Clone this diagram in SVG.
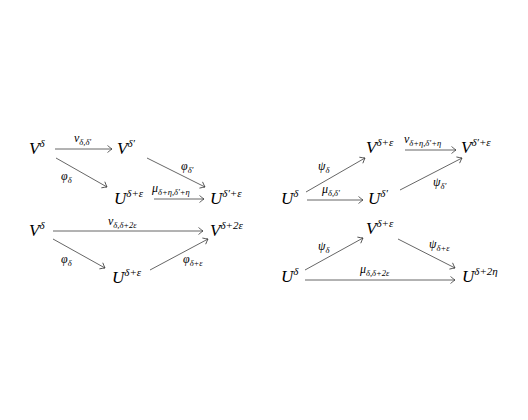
<svg xmlns="http://www.w3.org/2000/svg" width="528" height="420" viewBox="0 0 528 420">
<style>
.m{font-family:"Liberation Serif","DejaVu Serif",serif;font-style:italic;fill:#000}
.n{font-size:17px}
.sp{font-size:11px}
.l{font-size:12px}
.sb{font-size:8.5px}
.c line{stroke:#333;stroke-width:0.75;fill:none;marker-end:url(#ah)}
</style>
<defs>
<marker id="ah" markerWidth="10" markerHeight="10" refX="0" refY="0" viewBox="-6 -5 8 10" orient="auto" markerUnits="userSpaceOnUse">
<path d="M-4.5,-3.5 Q-1.5,-1 0,0 Q-1.5,1 -4.5,3.5" fill="none" stroke="#333" stroke-width="0.75"/>
</marker>
</defs>
<rect width="528" height="420" fill="#fff"/>

<!-- Diagram 1 -->
<g id="d1-Vd"><text class="m n" x="29" y="154">V<tspan class="sp" dy="-7">δ</tspan></text></g>
<g id="d1-Vdp"><text class="m n" x="117" y="154">V<tspan class="sp" dy="-7">δ′</tspan></text></g>
<g id="d1-Ude"><text class="m n" x="114" y="204">U<tspan class="sp" dy="-7">δ+ε</tspan></text></g>
<g id="d1-Udpe"><text class="m n" x="210" y="204">U<tspan class="sp" dy="-7">δ′+ε</tspan></text></g>

<!-- Diagram 2 -->
<g id="d2-Vd"><text class="m n" x="29" y="236">V<tspan class="sp" dy="-7">δ</tspan></text></g>
<g id="d2-Vd2e"><text class="m n" x="210" y="236">V<tspan class="sp" dy="-7">δ+2ε</tspan></text></g>
<g id="d2-Ude"><text class="m n" x="112" y="283">U<tspan class="sp" dy="-7">δ+ε</tspan></text></g>

<!-- Diagram 3 -->
<g id="d3-Ud"><text class="m n" x="281" y="204">U<tspan class="sp" dy="-7">δ</tspan></text></g>
<g id="d3-Vde"><text class="m n" x="366" y="153">V<tspan class="sp" dy="-7">δ+ε</tspan></text></g>
<g id="d3-Udp"><text class="m n" x="368" y="204">U<tspan class="sp" dy="-7">δ′</tspan></text></g>
<g id="d3-Vdpe"><text class="m n" x="461" y="153">V<tspan class="sp" dy="-7">δ′+ε</tspan></text></g>

<!-- Diagram 4 -->
<g id="d4-Vde"><text class="m n" x="366" y="234">V<tspan class="sp" dy="-7">δ+ε</tspan></text></g>
<g id="d4-Ud"><text class="m n" x="281" y="282">U<tspan class="sp" dy="-7">δ</tspan></text></g>
<g id="d4-Ud2h"><text class="m n" x="462" y="282">U<tspan class="sp" dy="-7">δ+2η</tspan></text></g>

<g id="connectors" class="c">
<line x1="55" y1="149" x2="112" y2="149"/>
<line x1="56" y1="158" x2="107" y2="187"/>
<line x1="147" y1="158" x2="205" y2="187"/>
<line x1="154" y1="199" x2="204" y2="199"/>

<line x1="53" y1="231" x2="203" y2="231"/>
<line x1="53" y1="239" x2="105" y2="268"/>
<line x1="150" y1="270" x2="208" y2="239"/>

<line x1="306" y1="192" x2="365" y2="158"/>
<line x1="307" y1="200" x2="363" y2="200"/>
<line x1="405" y1="150" x2="456" y2="150"/>
<line x1="400" y1="190" x2="462" y2="158"/>

<line x1="305" y1="270" x2="363" y2="238"/>
<line x1="398" y1="239" x2="455" y2="268"/>
<line x1="305" y1="280" x2="455" y2="280"/>
</g>

<g id="labels">
<text class="m l" x="74" y="142">ν<tspan class="sb" dy="2.5">δ,δ′</tspan></text>
<text class="m l" x="61" y="180">φ<tspan class="sb" dy="2.5">δ</tspan></text>
<text class="m l" x="181" y="170">φ<tspan class="sb" dy="2.5">δ′</tspan></text>
<text class="m l" x="152" y="192">μ<tspan class="sb" dy="2.5">δ+η,δ′+η</tspan></text>

<text class="m l" x="108" y="225">ν<tspan class="sb" dy="2.5">δ,δ+2ε</tspan></text>
<text class="m l" x="61" y="263">φ<tspan class="sb" dy="2.5">δ</tspan></text>
<text class="m l" x="183" y="263">φ<tspan class="sb" dy="2.5">δ+ε</tspan></text>

<text class="m l" x="318" y="170">ψ<tspan class="sb" dy="2.5">δ</tspan></text>
<text class="m l" x="322" y="193">μ<tspan class="sb" dy="2.5">δ,δ′</tspan></text>
<text class="m l" x="404" y="143">ν<tspan class="sb" dy="2.5">δ+η,δ′+η</tspan></text>
<text class="m l" x="433" y="186">ψ<tspan class="sb" dy="2.5">δ′</tspan></text>

<text class="m l" x="318" y="250">ψ<tspan class="sb" dy="2.5">δ</tspan></text>
<text class="m l" x="429" y="248">ψ<tspan class="sb" dy="2.5">δ+ε</tspan></text>
<text class="m l" x="360" y="273">μ<tspan class="sb" dy="2.5">δ,δ+2ε</tspan></text>
</g>
</svg>
